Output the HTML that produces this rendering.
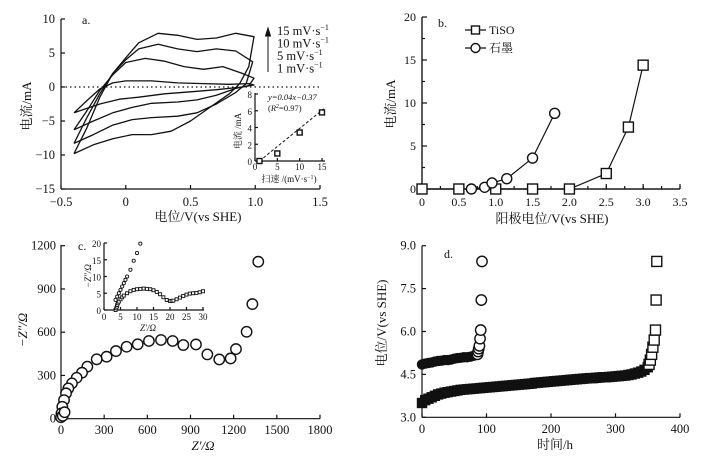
<!DOCTYPE html>
<html><head><meta charset="utf-8"><style>
html,body{margin:0;padding:0;background:#fff;}
svg{display:block;font-family:"Liberation Serif","Noto Serif CJK SC",serif;}
text{fill:#111;}
</style></head><body>
<svg id="fig" width="705" height="461" viewBox="0 0 705 461"></svg>
<script>
// ---------- Panel a data (CV loops, V vs mA) ----------
const cvRates=["15","10","5","1"];
const cv15=[[-0.40,-9.8],[-0.3,-6],[-0.2,-1.5],[-0.1,2],[0,4.3],[0.1,6.5],[0.25,7.9],[0.4,7.6],[0.55,7.0],[0.7,7.2],[0.85,7.9],[0.99,7.4],[0.95,3],[0.88,0.5],[0.8,-1],[0.65,-3],[0.5,-5],[0.35,-6.5],[0.2,-7],[0.05,-7],[-0.1,-7.6],[-0.25,-8.5],[-0.40,-9.8]];
const cv10=[[-0.40,-8.3],[-0.3,-4.5],[-0.2,-1],[-0.1,2],[0,4],[0.1,5.6],[0.25,6.3],[0.4,5.6],[0.55,5.2],[0.7,5.6],[0.85,5.3],[0.98,3.7],[0.93,0.5],[0.85,-0.8],[0.7,-2.5],[0.55,-3.8],[0.4,-4.3],[0.2,-4.5],[0.05,-4.8],[-0.1,-5.6],[-0.25,-7],[-0.40,-8.3]];
const cv5=[[-0.40,-6.3],[-0.3,-3.5],[-0.2,-0.5],[-0.1,1.8],[0,3.6],[0.15,4.2],[0.3,3.8],[0.45,3.0],[0.6,2.6],[0.75,3.0],[0.9,2.0],[0.99,1.3],[0.95,0.2],[0.85,-0.2],[0.7,-1.2],[0.55,-1.9],[0.4,-2.2],[0.2,-2.4],[0.05,-3],[-0.1,-3.8],[-0.25,-5],[-0.40,-6.3]];
const cv1=[[-0.40,-3.8],[-0.3,-2],[-0.2,-0.3],[-0.1,0.6],[0,0.9],[0.2,0.9],[0.4,0.6],[0.6,0.5],[0.8,0.4],[0.95,0.5],[0.99,0.3],[0.9,0],[0.7,-0.4],[0.5,-0.7],[0.3,-1],[0.1,-1.5],[-0.05,-1.8],[-0.2,-2.5],[-0.40,-3.8]];
const aXTicks=[-0.5,0,0.5,1.0,1.5];
const aXLabels=["\u22120.5","0","0.5","1.0","1.5"];
const aYTicks=[10,5,0,-5,-10,-15];
const aYLabels=["10","5","0","\u22125","\u221210","\u221215"];
const insRate=[1,5,10,15];
const insCurrent=[0,0.9,3.4,5.8];
// ---------- Panel b ----------
const tisoV=[0,0.5,1.0,1.5,2.0,2.5,2.8,3.0];
const tisoI=[0,0,0,0,0,1.8,7.2,14.4];
const graphV=[0.67,0.85,0.95,1.15,1.5,1.8];
const graphI=[0,0.2,0.7,1.2,3.6,8.8];
const bXTicks=[0,0.5,1.0,1.5,2.0,2.5,3.0,3.5];
const bXLabels=["0","0.5","1.0","1.5","2.0","2.5","3.0","3.5"];
const bYTicks=[0,5,10,15,20];
// ---------- Panel c ----------
const eisRe=[1371,1330,1290,1216,1179,1100,1017,938,850,776,695,611,533,456,382,317,248,183,146,109,76,51,35,21,9,3,0,12,25];
const eisIm=[1089,795,603,483,418,411,446,515,511,539,546,539,516,499,469,430,412,361,319,284,245,210,176,129,83,37,10,20,45];
const cXTicks=[0,300,600,900,1200,1500,1800];
const cYTicks=[0,300,600,900,1200];
const inCircRe=[3.5,4,4.5,5,5.5,6,6.5,7,8,9,10,11];
const inCircIm=[3,4,5,6,7,8,9,10,12,14.7,17,19.8];
const inSqRe=[3.5,3.7,3.9,4,4.2,4.5,5,5.5,6,7,8,9,10,11,12,13,14,15,16,17,18,19,20,20.5,21,22,23,24,25,26,27,28,29,30];
const inSqIm=[0,0.5,1,1.5,2,2.5,3.2,3.8,4.3,5,5.6,6,6.2,6.3,6.4,6.3,6.2,5.9,5.4,4.7,3.8,3,2.7,2.7,2.8,3.2,3.7,4.2,4.6,4.9,5,5.1,5.3,5.6];
// ---------- Panel d ----------
const gDenseT=[0,5,10,15,20,25,30,35,40,45,50,55,60,65,70,75,80];
const gDenseV=[4.85,4.88,4.9,4.92,4.95,4.97,4.98,5.0,5.0,5.02,5.05,5.07,5.08,5.1,5.1,5.12,5.15];
const gTailT=[86,87,88,89,90,91,92,93];
const gTailV=[5.2,5.3,5.4,5.5,5.75,6.05,7.1,8.45];
const tDenseT=[0,5,10,15,20,25,30,35,40,45,50,55,60,65,70,75,80,85,90,95,100,105,110,115,120,125,130,135,140,145,150,155,160,165,170,175,180,185,190,195,200,205,210,215,220,225,230,235,240,245,250,255,260,265,270,275,280,285,290,295,300,305,310,315,320,325,330,335,340,345,350];
const tDenseV=[3.5,3.6,3.65,3.7,3.75,3.8,3.83,3.86,3.88,3.9,3.92,3.94,3.96,3.97,3.98,3.99,4.0,4.01,4.02,4.03,4.04,4.05,4.06,4.07,4.08,4.09,4.1,4.11,4.12,4.13,4.14,4.15,4.16,4.17,4.18,4.2,4.21,4.22,4.23,4.24,4.25,4.26,4.27,4.28,4.29,4.3,4.31,4.32,4.33,4.34,4.35,4.36,4.37,4.37,4.38,4.39,4.4,4.4,4.41,4.42,4.43,4.44,4.45,4.46,4.48,4.5,4.53,4.56,4.6,4.66,4.75];
const tTailT=[352,354,356,358,360,362,363,364];
const tTailV=[4.85,5.0,5.2,5.45,5.7,6.05,7.1,8.45];
const dXTicks=[0,100,200,300,400];
const dYTicks=[3,4.5,6,7.5,9];
const dYLabels=["3.0","4.5","6.0","7.5","9.0"];

const NS='http://www.w3.org/2000/svg';
const svg=document.getElementById('fig');
function el(tag,attrs,parent){const e=document.createElementNS(NS,tag);for(const k in attrs)e.setAttribute(k,attrs[k]);(parent||svg).appendChild(e);return e;}
function lin(d0,d1,r0,r1){return v=>r0+(v-d0)/(d1-d0)*(r1-r0);}
function txt(x,y,s,anchor,size,parent){const t=el('text',{x:x,y:y,'text-anchor':anchor||'middle','font-size':size||12},parent);t.textContent=s;return t;}
function group(name){const g=el('g',{});
return g;}
const LS='stroke:#111;stroke-width:1.2;fill:none';
function xAxis(g,sx,y0,x1,x2,ticks,labels,tl,ly,size){
  const l=el('line',{x1:x1,y1:y0,x2:x2,y2:y0,style:LS},g);
  
  
  ticks.forEach((t,i)=>{const tk=el('line',{x1:sx(t),y1:y0,x2:sx(t),y2:y0-tl,style:LS},g);
    
    
    if(labels){const lb=txt(sx(t),ly,labels[i],'middle',size,g);
    
    }});
}
function yAxis(g,sy,x0,y1,y2,ticks,labels,tl,lx,size){
  const l=el('line',{x1:x0,y1:y1,x2:x0,y2:y2,style:LS},g);
  
  
  ticks.forEach((t,i)=>{const tk=el('line',{x1:x0,y1:sy(t),x2:x0+tl,y2:sy(t),style:LS},g);
    
    
    if(labels){const lb=txt(lx,sy(t)+4,labels[i],'end',size,g);
    
    }});
}
function vTitle(g,x,y,s,size,name){const t=el('text',{x:0,y:0,'text-anchor':'middle','font-size':size,transform:`translate(${x},${y}) rotate(-90)`},g);t.textContent=s;

return t;}
function hTitle(g,x,y,s,size,name,anchor){const t=txt(x,y,s,anchor||'middle',size,g);

return t;}
function sq(g,x,y,s,fill){const r=el('rect',{x:x-s/2,y:y-s/2,width:s,height:s,style:`stroke:#111;stroke-width:1.4;fill:${fill||'#fff'}`},g);return r;}
function circ(g,x,y,r,fill){return el('circle',{cx:x,cy:y,r:r,style:`stroke:#111;stroke-width:1.4;fill:${fill||'#fff'}`},g);}

// ===== Panel a =====
(function(){
const g=group('panel-a-cv');
const sx=lin(-0.5,1.5,61,320), sy=lin(-15,10,189,19);
const z=el('line',{x1:61,y1:sy(0),x2:320,y2:sy(0),style:'stroke:#111;stroke-width:1.2;stroke-dasharray:1.5,3'},g);


xAxis(g,sx,189,61,320,aXTicks,aXLabels,4,206,12.5);
yAxis(g,sy,61,19,189,aYTicks,aYLabels,4,55,12.5);
[cv15,cv10,cv5,cv1].forEach((d,i)=>{
  const p=el('path',{d:'M'+d.map(q=>sx(q[0]).toFixed(1)+','+sy(q[1]).toFixed(1)).join(' L'),style:'stroke:#111;stroke-width:1.3;fill:none;stroke-linejoin:round'},g);
  
  
});
vTitle(g,31,106,'电流/mA',13,'y-axis-title');
hTitle(g,198,221,'电位/V(vs SHE)',13,'x-axis-title');
hTitle(g,82,24,'a.',12,'panel-label','start');
// legend arrow
const ar=el('path',{d:'M268,72 L268,30 M265.5,36 L268,28 L270.5,36 Z',style:'stroke:#111;stroke-width:1;fill:#111'},g);


['15','10','5','1'].forEach((r,i)=>{const t=el('text',{x:277,y:35+i*12.5,'font-size':12.5},g);
  t.innerHTML=r+' mV·s<tspan dy="-5" font-size="8">−1</tspan>';
  
  });
// inset
const gi=group('panel-a-inset');
const ix=lin(0,15,255,322), iy=lin(0,8,161,94);
xAxis(gi,ix,161,255,325,[0,5,10,15],['0','5','10','15'],3,170,9);
yAxis(gi,iy,255,93,161,[0,2,4,6,8],['0','2','4','6','8'],3,252,9);
const fit=el('line',{x1:ix(1),y1:iy(0),x2:ix(15.8),y2:iy(6.4),style:'stroke:#111;stroke-width:1;stroke-dasharray:3,2'},gi);


insRate.forEach((r,i)=>{const m=sq(gi,ix(r),iy(insCurrent[i]),5);
  
  });
vTitle(gi,241,131,'电流 /mA',9,'inset-y-title');
const xt=el('text',{x:289,y:182,'text-anchor':'middle','font-size':9},gi);xt.innerHTML='扫速 /(mV·s<tspan dy="-3" font-size="6">−1</tspan><tspan dy="3">)</tspan>';


const f1=txt(268,100,'y=0.04x−0.37','start',8.5,gi);f1.setAttribute('font-style','italic');


const f2=el('text',{x:268,y:111,'font-size':8.5},gi);f2.innerHTML='(<tspan font-style="italic">R</tspan><tspan dy="-3" font-size="6">2</tspan><tspan dy="3">=0.97)</tspan>';


})();

// ===== Panel b =====
(function(){
const g=group('panel-b-polarization');
const sx=lin(0,3.5,422,680), sy=lin(0,20,189,17);
const minorX=[];for(let i=0;i<=14;i++)minorX.push(i*0.25);
xAxis(g,sx,189,422,680,minorX,null,3,0);
xAxis(g,sx,189,422,680,bXTicks,bXLabels,5,206,12);
yAxis(g,sy,422,17,189,[2.5,7.5,12.5,17.5],null,3,0);
yAxis(g,sy,422,17,189,bYTicks,['0','5','10','15','20'],5,416,12);
const lt=el('polyline',{points:tisoV.map((v,i)=>sx(v)+','+sy(tisoI[i])).join(' '),style:LS},g);


const lg=el('polyline',{points:graphV.map((v,i)=>sx(v)+','+sy(graphI[i])).join(' '),style:LS},g);


tisoV.forEach((v,i)=>{const m=sq(g,sx(v),sy(tisoI[i]),10);
  
  });
graphV.forEach((v,i)=>{const m=circ(g,sx(v),sy(graphI[i]),5);
  
  });
const l1=el('line',{x1:465,y1:30,x2:486,y2:30,style:LS},g);


const m1=sq(g,475.5,30,8);


hTitle(g,489,34,'TiSO',12,'legend-tiso-label','start');
const l2=el('line',{x1:465,y1:48,x2:486,y2:48,style:LS},g);


const m2=circ(g,475.5,48,4.5);


hTitle(g,489,52,'石墨',12,'legend-graphite-label','start');
hTitle(g,438,27,'b.',12,'panel-label','start');
vTitle(g,395,104,'电流/mA',13,'y-axis-title');
hTitle(g,552,223,'阳极电位/V(vs SHE)',13,'x-axis-title');
})();

// ===== Panel c =====
(function(){
const g=group('panel-c-eis');
const sx=lin(0,1800,61,320), sy=lin(0,1200,418.7,245.7);
xAxis(g,sx,418.7,61,320,cXTicks,cXTicks.map(String),4,434,12.5);
yAxis(g,sy,61,245,418.7,cYTicks,cYTicks.map(String),4,56,12.5);
eisRe.forEach((v,i)=>{const m=circ(g,sx(v),sy(eisIm[i]),5.2);
  
  });
vTitle(g,27,330,'−Z″/Ω',13,'y-axis-title').setAttribute('font-style','italic');
hTitle(g,203,450,'Z′/Ω',13,'x-axis-title').setAttribute('font-style','italic');
hTitle(g,78,250,'c.',12,'panel-label','start');
const gi=group('panel-c-inset');
const ix=lin(0,30,104,203), iy=lin(0,20,310,243);
xAxis(gi,ix,310,104,204,[0,5,10,15,20,25,30],['0','5','10','15','20','25','30'],3,320,9);
yAxis(gi,iy,104,243,310,[0,5,10,15,20],['0','5','10','15','20'],3,101,9);
inCircRe.forEach((v,i)=>{const m=circ(gi,ix(v),iy(inCircIm[i]),1.6);m.setAttribute('style','stroke:#111;stroke-width:0.9;fill:#fff');
  
  });
inSqRe.forEach((v,i)=>{const m=sq(gi,ix(v),iy(inSqIm[i]),3);m.setAttribute('style','stroke:#111;stroke-width:0.9;fill:#fff');
  
  });
vTitle(gi,91,276,'−Z″/Ω',9,'inset-y-title').setAttribute('font-style','italic');
hTitle(gi,148,331,'Z′/Ω',9,'inset-x-title').setAttribute('font-style','italic');
})();

// ===== Panel d =====
(function(){
const g=group('panel-d-chronopotentiometry');
const sx=lin(0,400,422,680), sy=lin(3,9,417.3,245.7);
xAxis(g,sx,417.3,422,680,dXTicks,dXTicks.map(String),4,433,12.5);
yAxis(g,sy,422,245.7,417.3,dYTicks,dYLabels,4,416,12.5);
const b1=el('polyline',{points:tDenseT.map((t,i)=>sx(t)+','+sy(tDenseV[i])).join(' '),style:'stroke:#111;stroke-width:9;fill:none;stroke-linejoin:round'},g);


tDenseT.forEach((t,i)=>{const m=sq(g,sx(t),sy(tDenseV[i]),9,'#111');
  
  });
const b2=el('polyline',{points:gDenseT.map((t,i)=>sx(t)+','+sy(gDenseV[i])).join(' '),style:'stroke:#111;stroke-width:8;fill:none;stroke-linejoin:round'},g);


gDenseT.forEach((t,i)=>{const m=circ(g,sx(t),sy(gDenseV[i]),4.5,'#111');
  
  });
tTailT.forEach((t,i)=>{const m=sq(g,sx(t),sy(tTailV[i]),10);
  
  });
gTailT.forEach((t,i)=>{const m=circ(g,sx(t),sy(gTailV[i]),5.2);
  
  });
hTitle(g,444,258,'d.',12,'panel-label','start');
vTitle(g,386,323,'电位/V(vs SHE)',13,'y-axis-title');
hTitle(g,555,449,'时间/h',13,'x-axis-title');
})();
</script>
</body></html>
